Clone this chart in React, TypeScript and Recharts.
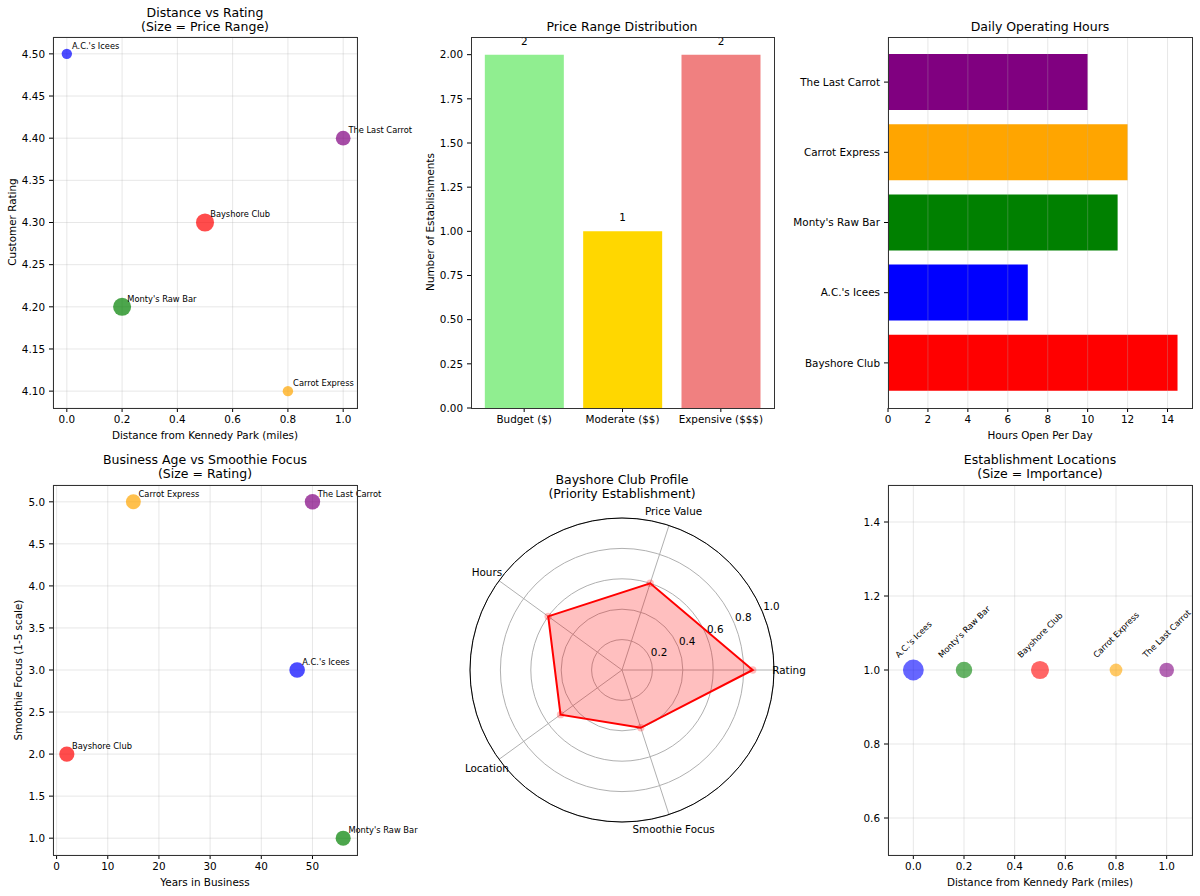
import React from "react";
import {
  ScatterChart, Scatter, BarChart, Bar, Cell, LabelList, XAxis, YAxis, CartesianGrid, ReferenceLine,
  RadarChart, Radar, PolarGrid, PolarAngleAxis, PolarRadiusAxis,
} from "recharts";

// establishments, same order in every list
const names = ["Bayshore Club", "A.C.'s Icees", "Monty's Raw Bar", "Carrot Express", "The Last Carrot"];
const colors = ["#ff0000", "#0000ff", "#008000", "#ffa500", "#800080"];
const distance = [0.5, 0.0, 0.2, 0.8, 1.0];
const rating = [4.3, 4.5, 4.2, 4.1, 4.4];
const priceLevel = [3, 1, 3, 1, 2];
const hours = [14.5, 7, 11.5, 12, 10];
const yearsInBusiness = [2, 47, 56, 15, 50];
const smoothieFocus = [2, 3, 1, 5, 5];
const importance = [300, 400, 250, 150, 200];

const priceCategories = ["Budget ($)", "Moderate ($$)", "Expensive ($$$)"];
const priceCounts = [2, 1, 2];

const profileAxes = ["Rating", "Price Value", "Hours", "Location", "Smoothie Focus"];
const bayshoreProfile = [0.86, 0.6, 0.6, 0.5, 0.4];

const distTicks = [0, 0.2, 0.4, 0.6, 0.8, 1.0];
const ratingTicks = [4.1, 4.15, 4.2, 4.25, 4.3, 4.35, 4.4, 4.45, 4.5];
const countTicks = [0, 0.25, 0.5, 0.75, 1.0, 1.25, 1.5, 1.75, 2.0];
const hourTicks = [0, 2, 4, 6, 8, 10, 12, 14];
const yearTicks = [0, 10, 20, 30, 40, 50];
const focusTicks = [1, 1.5, 2, 2.5, 3, 3.5, 4, 4.5, 5];
const locTicks = [0.6, 0.8, 1.0, 1.2, 1.4];
const radiusTicks = [0.2, 0.4, 0.6, 0.8, 1.0];

const FONT = '"DejaVu Sans", Verdana, sans-serif';
const TICK = { fontSize: 10.4, fill: "#000" };
const TICKLINE = { stroke: "#000" };
const GRID = "#b0b0b0";

// matplotlib marker size (pt^2) -> radius in px at 75 dpi
const markerRadius = (s: number) => (Math.sqrt(s) / 2) * (75 / 72);

let ctx: CanvasRenderingContext2D | null = null;
const textWidth = (s: string) => {
  if (!ctx) {
    ctx = document.createElement("canvas").getContext("2d");
    if (ctx) ctx.font = `8.3px ${FONT}`;
  }
  return ctx ? ctx.measureText(s).width : s.length * 5;
};

const rows = names.map((name, i) => ({
  name,
  color: colors[i],
  distance: distance[i],
  rating: rating[i],
  years: yearsInBusiness[i],
  focus: smoothieFocus[i],
  hours: hours[i],
  one: 1,
  priceS: priceLevel[i] * 100,
  ratingS: rating[i] * 50,
  importanceS: importance[i],
}));
const priceRows = priceCategories.map((category, i) => ({ category, count: priceCounts[i] }));
const barColors = ["#90ee90", "#ffd700", "#f08080"];
// radar goes clockwise in recharts, so keep Rating first and walk the rest backwards
const radarOrder = [0, 4, 3, 2, 1];
const radarRows = radarOrder.map((i) => ({ axis: profileAxes[i], value: bayshoreProfile[i] }));

const labeledDot = (sizeKey: string, alpha: number) => (p: any) => {
  const r = markerRadius(p.payload[sizeKey]);
  return (
    <g>
      <circle cx={p.cx} cy={p.cy} r={r} fill={p.payload.color} fillOpacity={alpha} />
      <text x={p.cx + 5.2} y={p.cy - 5.2} fontSize={8.3} fill="#000">{p.payload.name}</text>
    </g>
  );
};

const tiltedDot = (p: any) => {
  const r = markerRadius(p.payload.importanceS);
  const side = (textWidth(p.payload.name) + 9.7) * Math.SQRT1_2;
  const ty = p.cy - 10.4 - side / 2;
  return (
    <g>
      <circle cx={p.cx} cy={p.cy} r={r} fill={p.payload.color} fillOpacity={0.6} />
      <text x={p.cx} y={ty} fontSize={8.3} fill="#000" textAnchor="middle" dominantBaseline="central"
        transform={`rotate(-45 ${p.cx} ${ty})`}>{p.payload.name}</text>
    </g>
  );
};

function Txt({ x, y, children, size = 10.4, rotate = 0 }: any) {
  return (
    <div style={{
      position: "absolute", left: x, top: y, transform: `translate(-50%,-50%) rotate(${rotate}deg)`,
      fontSize: size, lineHeight: 1, whiteSpace: "nowrap", color: "#000",
    }}>{children}</div>
  );
}

function Frame({ p }: any) {
  return <div style={{ position: "absolute", left: p.x, top: p.y, width: p.w + 1, height: p.h + 1, border: "1px solid #333", boxSizing: "border-box", pointerEvents: "none" }} />;
}

const box = (p: any, L: number, T: number, R: number, B: number) => ({
  style: { position: "absolute" as const, left: p.x - L, top: p.y - T },
  width: L + p.w + R,
  height: T + p.h + B,
  margin: { top: T, right: R, bottom: 0, left: 0 },
});

const P1 = { x: 53, y: 37, w: 304, h: 371 };
const P2 = { x: 471, y: 37, w: 303, h: 371 };
const P3 = { x: 888, y: 37, w: 304, h: 371 };
const P4 = { x: 53, y: 485, w: 304, h: 370 };
const P6 = { x: 888, y: 485, w: 304, h: 370 };

export default function App() {
  const b1 = box(P1, 53, 37, 70, 40);
  const b2 = box(P2, 71, 37, 20, 40);
  const b3 = box(P3, 120, 37, 8, 40);
  const b4 = box(P4, 53, 37, 70, 40);
  const b6 = box(P6, 50, 37, 8, 40);

  return (
    <div style={{ position: "absolute", left: 0, top: 0, width: 1200, height: 896, background: "#fff", fontFamily: FONT, overflow: "hidden" }}>
      {/* 1: distance vs rating */}
      <div style={b1.style}>
        <ScatterChart width={b1.width} height={b1.height} margin={b1.margin}>
          <CartesianGrid stroke={GRID} strokeOpacity={0.3} />
          <XAxis type="number" dataKey="distance" domain={[-0.05, 1.05]} ticks={distTicks}
            tickFormatter={(v) => v.toFixed(1)} height={40} tickSize={4} tickMargin={4} axisLine={false} tick={TICK} tickLine={TICKLINE} />
          <YAxis type="number" dataKey="rating" domain={[4.08, 4.52]} ticks={ratingTicks}
            tickFormatter={(v) => v.toFixed(2)} width={53} tickSize={4} tickMargin={4} axisLine={false} tick={TICK} tickLine={TICKLINE} />
          <Scatter data={rows} shape={labeledDot("priceS", 0.7)} isAnimationActive={false} />
        </ScatterChart>
      </div>

      {/* 2: price range distribution */}
      <div style={b2.style}>
        <BarChart width={b2.width} height={b2.height} margin={b2.margin} data={priceRows} barCategoryGap="10%">
          <XAxis dataKey="category" type="category" padding={{ left: 4, right: 4 }} height={40} tickSize={4} tickMargin={4}
            axisLine={false} tick={TICK} tickLine={TICKLINE} />
          <YAxis type="number" domain={[0, 2.1]} allowDataOverflow ticks={countTicks} tickFormatter={(v) => v.toFixed(2)}
            width={71} tickSize={4} tickMargin={4} axisLine={false} tick={TICK} tickLine={TICKLINE} />
          <Bar dataKey="count" isAnimationActive={false}>
            {priceRows.map((r, i) => <Cell key={r.category} fill={barColors[i]} />)}
            <LabelList dataKey="count" position="top" offset={10} style={{ fontSize: 10.4, fill: "#000" }} />
          </Bar>
        </BarChart>
      </div>

      {/* 3: daily operating hours */}
      <div style={b3.style}>
        <BarChart width={b3.width} height={b3.height} margin={b3.margin} data={rows} layout="vertical" barCategoryGap="10%">
          <XAxis type="number" domain={[0, 15.225]} allowDataOverflow ticks={hourTicks} height={40} tickSize={4} tickMargin={4}
            axisLine={false} tick={TICK} tickLine={TICKLINE} />
          <YAxis type="category" dataKey="name" reversed padding={{ top: 10, bottom: 10 }} width={120} tickSize={4} tickMargin={4}
            axisLine={false} tick={TICK} tickLine={TICKLINE} />
          <Bar dataKey="hours" isAnimationActive={false}>
            {rows.map((r) => <Cell key={r.name} fill={r.color} />)}
          </Bar>
          {hourTicks.map((t) => <ReferenceLine key={t} x={t} stroke={GRID} strokeOpacity={0.3} />)}
        </BarChart>
      </div>

      {/* 4: business age vs smoothie focus */}
      <div style={b4.style}>
        <ScatterChart width={b4.width} height={b4.height} margin={b4.margin}>
          <CartesianGrid stroke={GRID} strokeOpacity={0.3} />
          <XAxis type="number" dataKey="years" domain={[-0.7, 58.7]} ticks={yearTicks}
            height={40} tickSize={4} tickMargin={4} axisLine={false} tick={TICK} tickLine={TICKLINE} />
          <YAxis type="number" dataKey="focus" domain={[0.8, 5.2]} ticks={focusTicks}
            tickFormatter={(v) => v.toFixed(1)} width={53} tickSize={4} tickMargin={4} axisLine={false} tick={TICK} tickLine={TICKLINE} />
          <Scatter data={rows} shape={labeledDot("ratingS", 0.7)} isAnimationActive={false} />
        </ScatterChart>
      </div>

      {/* 5: Bayshore radar */}
      <div style={{ position: "absolute", left: 400, top: 448 }}>
        <RadarChart width={440} height={448} cx={222} cy={222} outerRadius={152} startAngle={0} endAngle={-360}
          data={radarRows} margin={{ top: 0, right: 0, bottom: 0, left: 0 }}>
          <PolarGrid gridType="circle" stroke={GRID} />
          <PolarAngleAxis dataKey="axis" tickSize={15} tickLine={false} axisLineType="circle" axisLine={{ stroke: "#000" }}
            tick={(p: any) => (
              <text x={p.x} y={p.y} textAnchor="middle" dominantBaseline="central" fontSize={10.4} fill="#000">{p.payload.value}</text>
            )} />
          <PolarRadiusAxis type="number" angle={22.5} domain={[0, 1]} ticks={radiusTicks} tickCount={6} axisLine={false}
            tick={(p: any) => p.payload.value === 0 ? <g /> : (
              <text x={p.x + 9} y={p.y - 6} textAnchor="middle" dominantBaseline="central" fontSize={10.4} fill="#000">
                {Number(p.payload.value).toFixed(1)}
              </text>
            )} />
          <Radar dataKey="value" stroke="#ff0000" strokeWidth={2} fill="#ff0000" fillOpacity={0.25}
            dot={{ r: 3.7, fill: "#ff0000", stroke: "none" }} isAnimationActive={false} />
        </RadarChart>
      </div>

      {/* 6: establishment locations */}
      <div style={b6.style}>
        <ScatterChart width={b6.width} height={b6.height} margin={b6.margin}>
          <CartesianGrid stroke={GRID} strokeOpacity={0.3} />
          <XAxis type="number" dataKey="distance" domain={[-0.1, 1.1]} ticks={distTicks}
            tickFormatter={(v) => v.toFixed(1)} height={40} tickSize={4} tickMargin={4} axisLine={false} tick={TICK} tickLine={TICKLINE} />
          <YAxis type="number" dataKey="one" domain={[0.5, 1.5]} ticks={locTicks}
            tickFormatter={(v) => v.toFixed(1)} width={50} tickSize={4} tickMargin={4} axisLine={false} tick={TICK} tickLine={TICKLINE} />
          <Scatter data={rows} shape={tiltedDot} isAnimationActive={false} />
        </ScatterChart>
      </div>

      {[P1, P2, P3, P4, P6].map((p, i) => <Frame key={i} p={p} />)}

      <Txt x={205} y={13} size={12.5}>Distance vs Rating</Txt>
      <Txt x={205} y={27} size={12.5}>(Size = Price Range)</Txt>
      <Txt x={205} y={435}>Distance from Kennedy Park (miles)</Txt>
      <Txt x={12} y={222} rotate={-90}>Customer Rating</Txt>

      <Txt x={622} y={27} size={12.5}>Price Range Distribution</Txt>
      <Txt x={430} y={222} rotate={-90}>Number of Establishments</Txt>

      <Txt x={1040} y={27} size={12.5}>Daily Operating Hours</Txt>
      <Txt x={1040} y={435}>Hours Open Per Day</Txt>

      <Txt x={205} y={460} size={12.5}>Business Age vs Smoothie Focus</Txt>
      <Txt x={205} y={474} size={12.5}>(Size = Rating)</Txt>
      <Txt x={205} y={882}>Years in Business</Txt>
      <Txt x={18} y={670} rotate={-90}>Smoothie Focus (1-5 scale)</Txt>

      <Txt x={622} y={480} size={12.5}>Bayshore Club Profile</Txt>
      <Txt x={622} y={494} size={12.5}>(Priority Establishment)</Txt>

      <Txt x={1040} y={460} size={12.5}>Establishment Locations</Txt>
      <Txt x={1040} y={474} size={12.5}>(Size = Importance)</Txt>
      <Txt x={1040} y={882}>Distance from Kennedy Park (miles)</Txt>
    </div>
  );
}
